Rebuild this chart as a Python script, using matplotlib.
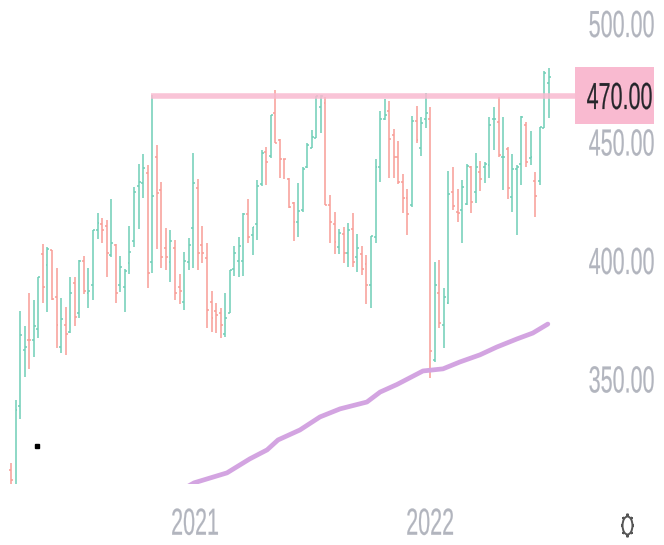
import matplotlib
matplotlib.use('Agg')
import matplotlib.pyplot as plt
from matplotlib.lines import Line2D
from matplotlib.markers import MarkerStyle
from matplotlib.patches import Rectangle
from matplotlib.patheffects import AbstractPathEffect
from matplotlib.transforms import Affine2D
import numpy as np

# weekly bars
opens = [312.2,303.8,339.2,362.9,367.2,367.1,371.7,403.4,398.7,405.1,385.2,364.1,373.4,370.5,391.1,378.5,400.4,386.9,390.3,413.5,
         416.0,415.2,403.0,407.2,390.3,389.5,399.6,408.9,432.1,433.3,437.6,400.0,444.3,430.4,405.9,400.0,405.9,389.5,383.1,400.0,
         414.3,431.2,407.2,401.7,383.1,379.3,378.5,369.6,378.5,397.0,400.4,400.4,420.3,411.4,416.0,432.9,446.4,444.7,462.9,451.5,
         443.6,435.0,424.9,416.9,421.9,440.1,448.1,452.3,465.4,467.1,424.1,416.0,406.3,411.8,403.8,413.9,402.1,403.4,399.2,390.3,
         410.5,440.1,460.3,463.7,453.6,444.3,433.8,427.0,424.1,459.5,448.1,460.3,460.3,358.6,386.9,373.4,382.7,429.5,421.1,421.9,
         424.5,440.1,429.5,438.0,440.1,440.9,460.3,459.0,444.3,447.7,427.4,439.2,441.3,457.8,443.9,434.2,434.2,456.5,475.5]
highs = [315.2,341.8,379.3,373.0,386.9,384.0,393.7,407.6,406.3,405.1,397.5,384.8,381.0,393.7,393.7,400.9,402.5,397.5,413.5,420.7,
         418.6,417.7,426.6,407.6,402.5,397.1,415.2,431.6,441.4,445.6,440.9,470.5,449.4,433.8,414.3,413.5,409.3,394.9,404.2,410.1,
         446.0,435.0,415.2,408.0,387.8,382.7,380.6,386.9,396.6,406.8,410.5,420.7,426.6,414.8,434.6,447.3,448.5,462.0,472.6,451.9,
         443.6,435.4,425.3,433.3,440.1,450.2,455.7,470.0,470.5,469.6,428.3,421.1,413.9,414.8,416.5,420.7,411.8,406.8,403.0,411.0,
         443.5,463.7,468.8,467.9,456.1,451.1,437.1,430.8,461.6,465.8,461.2,471.3,465.4,400.0,400.8,389.0,438.4,440.1,430.8,434.6,
         441.4,440.5,446.0,442.6,442.2,461.2,465.4,469.6,461.2,448.5,445.6,440.9,461.6,459.1,455.3,438.0,456.9,480.6,481.9]
lows = [300.0,300.0,333.8,351.5,354.8,359.9,367.9,382.7,378.9,384.0,363.7,361.6,360.8,370.0,373.0,376.4,386.5,380.6,384.0,409.7,
        408.0,393.7,402.1,382.7,387.3,378.9,394.9,406.3,413.9,427.0,389.0,395.4,405.5,397.5,396.6,391.6,384.0,382.3,379.8,396.6,
        397.5,396.6,399.6,372.1,370.5,370.0,367.9,368.3,378.5,394.1,393.7,394.1,408.0,403.0,409.3,432.1,432.5,443.9,450.2,435.4,
        435.0,422.8,408.9,410.5,421.1,439.7,448.1,452.3,454.4,424.1,408.0,403.4,403.4,399.6,397.9,397.9,395.8,394.5,382.3,380.6,
        408.0,433.8,459.9,435.4,435.4,432.9,420.7,411.4,423.2,450.2,444.7,456.5,351.1,357.8,372.1,363.7,382.3,421.9,416.9,408.0,
        424.1,420.7,424.9,430.0,433.3,435.4,447.3,444.3,430.4,426.6,421.1,411.4,432.5,440.1,440.9,419.0,432.5,456.5,460.8]
closes = [308.0,337.6,369.2,364.1,367.0,373.0,393.7,389.5,405.5,384.4,373.4,376.0,369.6,386.9,376.8,400.4,387.8,387.8,413.5,416.5,
          413.5,403.8,408.0,386.9,397.9,396.2,404.2,429.5,433.8,439.7,395.4,427.9,429.1,402.1,402.1,408.9,386.9,387.8,400.4,407.2,
          433.3,403.8,403.8,379.8,376.4,377.6,373.4,376.4,396.6,403.8,406.8,420.3,410.5,414.8,432.1,446.0,442.2,462.0,450.2,443.5,
          443.4,423.2,416.9,421.5,439.2,449.4,452.7,470.0,470.0,424.1,416.9,408.4,412.2,403.8,413.5,400.0,405.9,397.0,390.3,411.0,
          440.1,460.3,462.0,451.9,444.3,433.8,427.0,420.3,459.5,451.5,458.7,462.9,362.4,390.3,374.3,385.2,428.7,423.6,420.7,431.6,
          440.5,425.3,440.1,435.0,441.3,457.8,460.3,445.2,444.3,431.2,439.2,440.1,461.2,442.2,444.3,427.9,456.9,479.7,478.0]

# moving average
ma_idx = [39.0,40.2,47.4,52.4,56.2,58.6,63.4,67.8,72.2,78.1,81.0,84.7,90.4,94.8,98.5,102.9,106.6,111.0,114.5,117.8]
ma_val = [305.5,306.8,311.0,316.9,320.7,324.9,329.1,334.6,338.0,340.9,345.1,348.3,354.0,354.9,357.8,360.8,364.1,367.5,370.0,373.8]

level = 470.0
level_start = 30.7
yticks = [350, 400, 450, 500]
year_pos = [40.4, 92.0]
year_labels = ['2021', '2022']

plt.rcParams['font.family'] = ['Liberation Sans']
GREEN = '#6fceb7'
RED = '#f89c96'
GREY = '#b2b5be'
PINK = '#f9bad0'
FS = 15.5


# the labels in the reference are squeezed, so stretch the glyphs upward
class Tall(AbstractPathEffect):
    def __init__(self, k=1.75, down=0):
        super().__init__()
        self.k = k
        self.down = down

    def draw_path(self, renderer, gc, tpath, affine, rgbFace=None):
        gc0 = renderer.new_gc()
        gc0.copy_properties(gc)
        gc0.set_linewidth(0.15)
        gc0.set_foreground(rgbFace)
        tr = Affine2D().scale(1, self.k) + affine + Affine2D().translate(0, -self.down)
        renderer.draw_path(gc0, tpath, tr, rgbFace)
        gc0.restore()


fig = plt.figure(figsize=(6.64, 5.45), dpi=100)
ax = fig.add_axes([0, 1 - 484 / 545, 577 / 664, 484 / 545])

o = np.array(opens)
h = np.array(highs)
l = np.array(lows)
c = np.array(closes)
x = np.arange(len(o))
cols = [GREEN if b >= a else RED for a, b in zip(o, c)]

ax.vlines(x, l, h, colors=cols, lw=1.1, zorder=2)
ax.hlines(o, x - 0.42, x, colors=cols, lw=1.1, zorder=2)
ax.hlines(c, x, x + 0.42, colors=cols, lw=1.1, zorder=2)

ax.plot(ma_idx, ma_val, color='#d3a4e1', lw=3.4, solid_capstyle='round', zorder=3)
ax.plot([level_start, 125], [level, level], color=PINK, lw=4.0, alpha=0.85, solid_capstyle='butt', zorder=4)
ax.plot([5.7], [322.4], 's', color='black', ms=2.4, zorder=5)

ax.set_xlim(-2.41, 124.2)
ax.set_ylim(306.3, 510.55)
for s in ax.spines.values():
    s.set_visible(False)

ax.yaxis.tick_right()
ax.set_yticks(yticks)
ax.set_yticklabels(['%.2f' % v for v in yticks])
ax.tick_params(axis='y', length=0, pad=8.4, labelsize=FS, labelcolor=GREY)
ax.set_xticks(year_pos)
ax.set_xticklabels(year_labels)
ax.tick_params(axis='x', length=0, pad=25, labelsize=FS, labelcolor=GREY)
for t in ax.get_yticklabels():
    t.set_path_effects([Tall(down=4)])
for t in ax.get_xticklabels():
    t.set_path_effects([Tall()])

# price label box
fig.add_artist(Rectangle((575 / 664, 1 - 124 / 545), 79 / 664, 57 / 545, transform=fig.transFigure,
                         facecolor=PINK, edgecolor='none', zorder=6))
lab = fig.text(653 / 664, 1 - 96 / 545, '%.2f' % level, ha='right', va='center_baseline', fontsize=FS,
               color='#26262b', zorder=7)
lab.set_path_effects([Tall(down=5)])

# settings gear
gx, gy = 627 / 664, 1 - 525 / 545
narrow = Affine2D().scale(0.55, 1)
fig.add_artist(Line2D([gx], [gy], marker=MarkerStyle((8, 2, 0), transform=narrow), ms=17, mew=1.5,
                      color='#555555', transform=fig.transFigure))
fig.add_artist(Line2D([gx], [gy], marker=MarkerStyle('o', transform=narrow), ms=13, mew=1.4, mfc='white',
                      mec='#555555', color='#555555', transform=fig.transFigure))

fig.savefig('out.png', dpi=100)
